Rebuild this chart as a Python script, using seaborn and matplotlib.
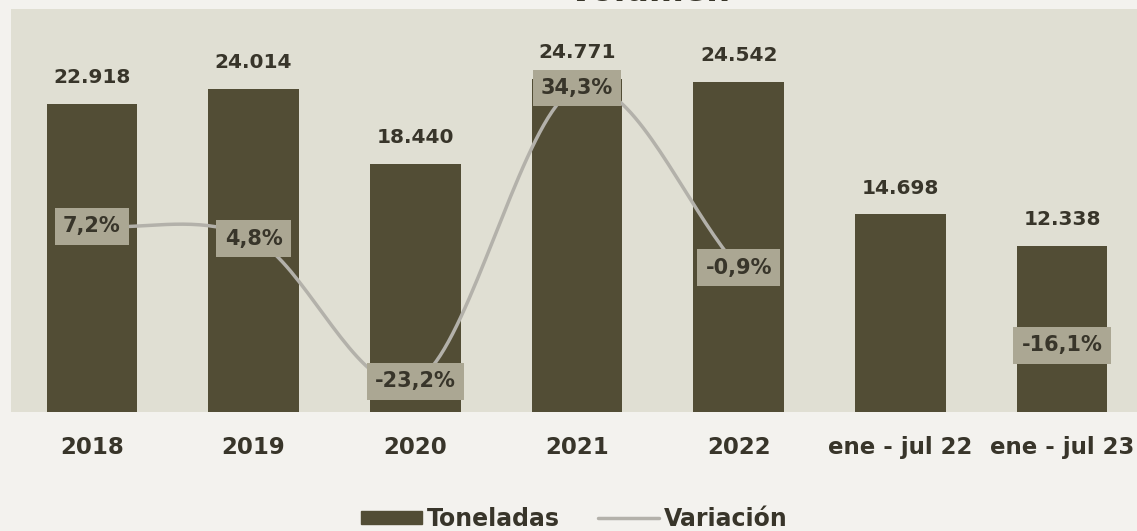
import numpy as np
import pandas as pd
import matplotlib
matplotlib.use("Agg")
import matplotlib.pyplot as plt
import seaborn as sns
from matplotlib.patches import Patch
from matplotlib.lines import Line2D

# -----------------------------
# Data
# -----------------------------
periods = ["2018", "2019", "2020", "2021", "2022", "ene - jul 22", "ene - jul 23"]
toneladas = [22918, 24014, 18440, 24771, 24542, 14698, 12338]
variacion = [7.2, 4.8, -23.2, 34.3, -0.9, np.nan, -16.1]

df = pd.DataFrame({"periodo": periods, "toneladas": toneladas, "variacion": variacion})

# -----------------------------
# Style
# -----------------------------
fig_bg = "#f3f2ee"
ax_bg = "#e0dfd3"
bar_color = "#524d35"
line_color = "#b3b1aa"
box_color = "#aba793"
text_color = "#38352a"

sns.set_theme(style="white")
plt.rcParams["font.family"] = ["DejaVu Sans"]
plt.rcParams["font.weight"] = "bold"

fig = plt.figure(figsize=(11.37, 5.31), dpi=100, facecolor=fig_bg)
ax = fig.add_axes([11 / 1137, 119 / 531, 1132 / 1137, 403.5 / 531])
ax.set_facecolor(ax_bg)

sns.barplot(data=df, x="periodo", y="toneladas", color=bar_color, width=0.56,
            saturation=1, linewidth=0, ax=ax)
ax.set_xlim(-0.5, 6.5)
ax.set_ylim(0, 30000)
ax.set_xlabel("")
ax.set_ylabel("")
ax.set_yticks([])
ax.tick_params(axis="x", length=0, pad=17, labelsize=16.5, colors=text_color)
for lbl in ax.get_xticklabels():
    lbl.set_fontweight("bold")
for s in ax.spines.values():
    s.set_visible(False)

# bar value labels
for i, v in enumerate(toneladas):
    ax.annotate(f"{v:,}".replace(",", "."), (i, v), xytext=(0, 12),
                textcoords="offset points", ha="center", va="bottom",
                fontsize=14.5, fontweight="bold", color=text_color)

# -----------------------------
# Variation line (secondary axis, smoothed)
# -----------------------------
ax2 = ax.twinx()
ax2.set_ylim(-29.2, 49.9)
ax2.set_yticks([])
for s in ax2.spines.values():
    s.set_visible(False)


def catmull_rom(xs, ys, n=40):
    px = np.concatenate([[2 * xs[0] - xs[1]], xs, [2 * xs[-1] - xs[-2]]])
    py = np.concatenate([[2 * ys[0] - ys[1]], ys, [2 * ys[-1] - ys[-2]]])
    out_x, out_y = [], []
    t = np.linspace(0, 1, n)
    for k in range(1, len(px) - 2):
        for p, out in ((px, out_x), (py, out_y)):
            p0, p1, p2, p3 = p[k - 1], p[k], p[k + 1], p[k + 2]
            out.extend(0.5 * ((2 * p1) + (-p0 + p2) * t
                              + (2 * p0 - 5 * p1 + 4 * p2 - p3) * t ** 2
                              + (-p0 + 3 * p1 - 3 * p2 + p3) * t ** 3))
    return np.array(out_x), np.array(out_y)


seg = df.iloc[:5]
sx, sy = catmull_rom(np.arange(5, dtype=float), seg["variacion"].to_numpy())
ax2.plot(sx, sy, color=line_color, lw=2.5, solid_capstyle="round")

for i, v in enumerate(variacion):
    if np.isnan(v):
        continue
    ax2.text(i, v, f"{v:.1f}%".replace(".", ","), ha="center", va="center",
             fontsize=15, fontweight="bold", color=text_color,
             bbox=dict(boxstyle="square,pad=0.4", fc=box_color, ec="none"))

# -----------------------------
# Title and legend
# -----------------------------
fig.text(0.571, 1 - 1 / 531, "Volumen", ha="center", va="baseline",
         fontsize=24, fontweight="bold", color=text_color)

handles = [Patch(color=bar_color, label="Toneladas"),
           Line2D([0], [0], color=line_color, lw=2.5, label="Variación")]
leg = fig.legend(handles=handles, loc="lower center", ncol=2, frameon=False,
                 bbox_to_anchor=(0.505, -0.04), fontsize=17, handlelength=2.6,
                 handleheight=0.5, handletextpad=0.2, columnspacing=1.6)
for t in leg.get_texts():
    t.set_color(text_color)
    t.set_fontweight("bold")

fig.savefig("out.png", dpi=100, facecolor=fig_bg)
